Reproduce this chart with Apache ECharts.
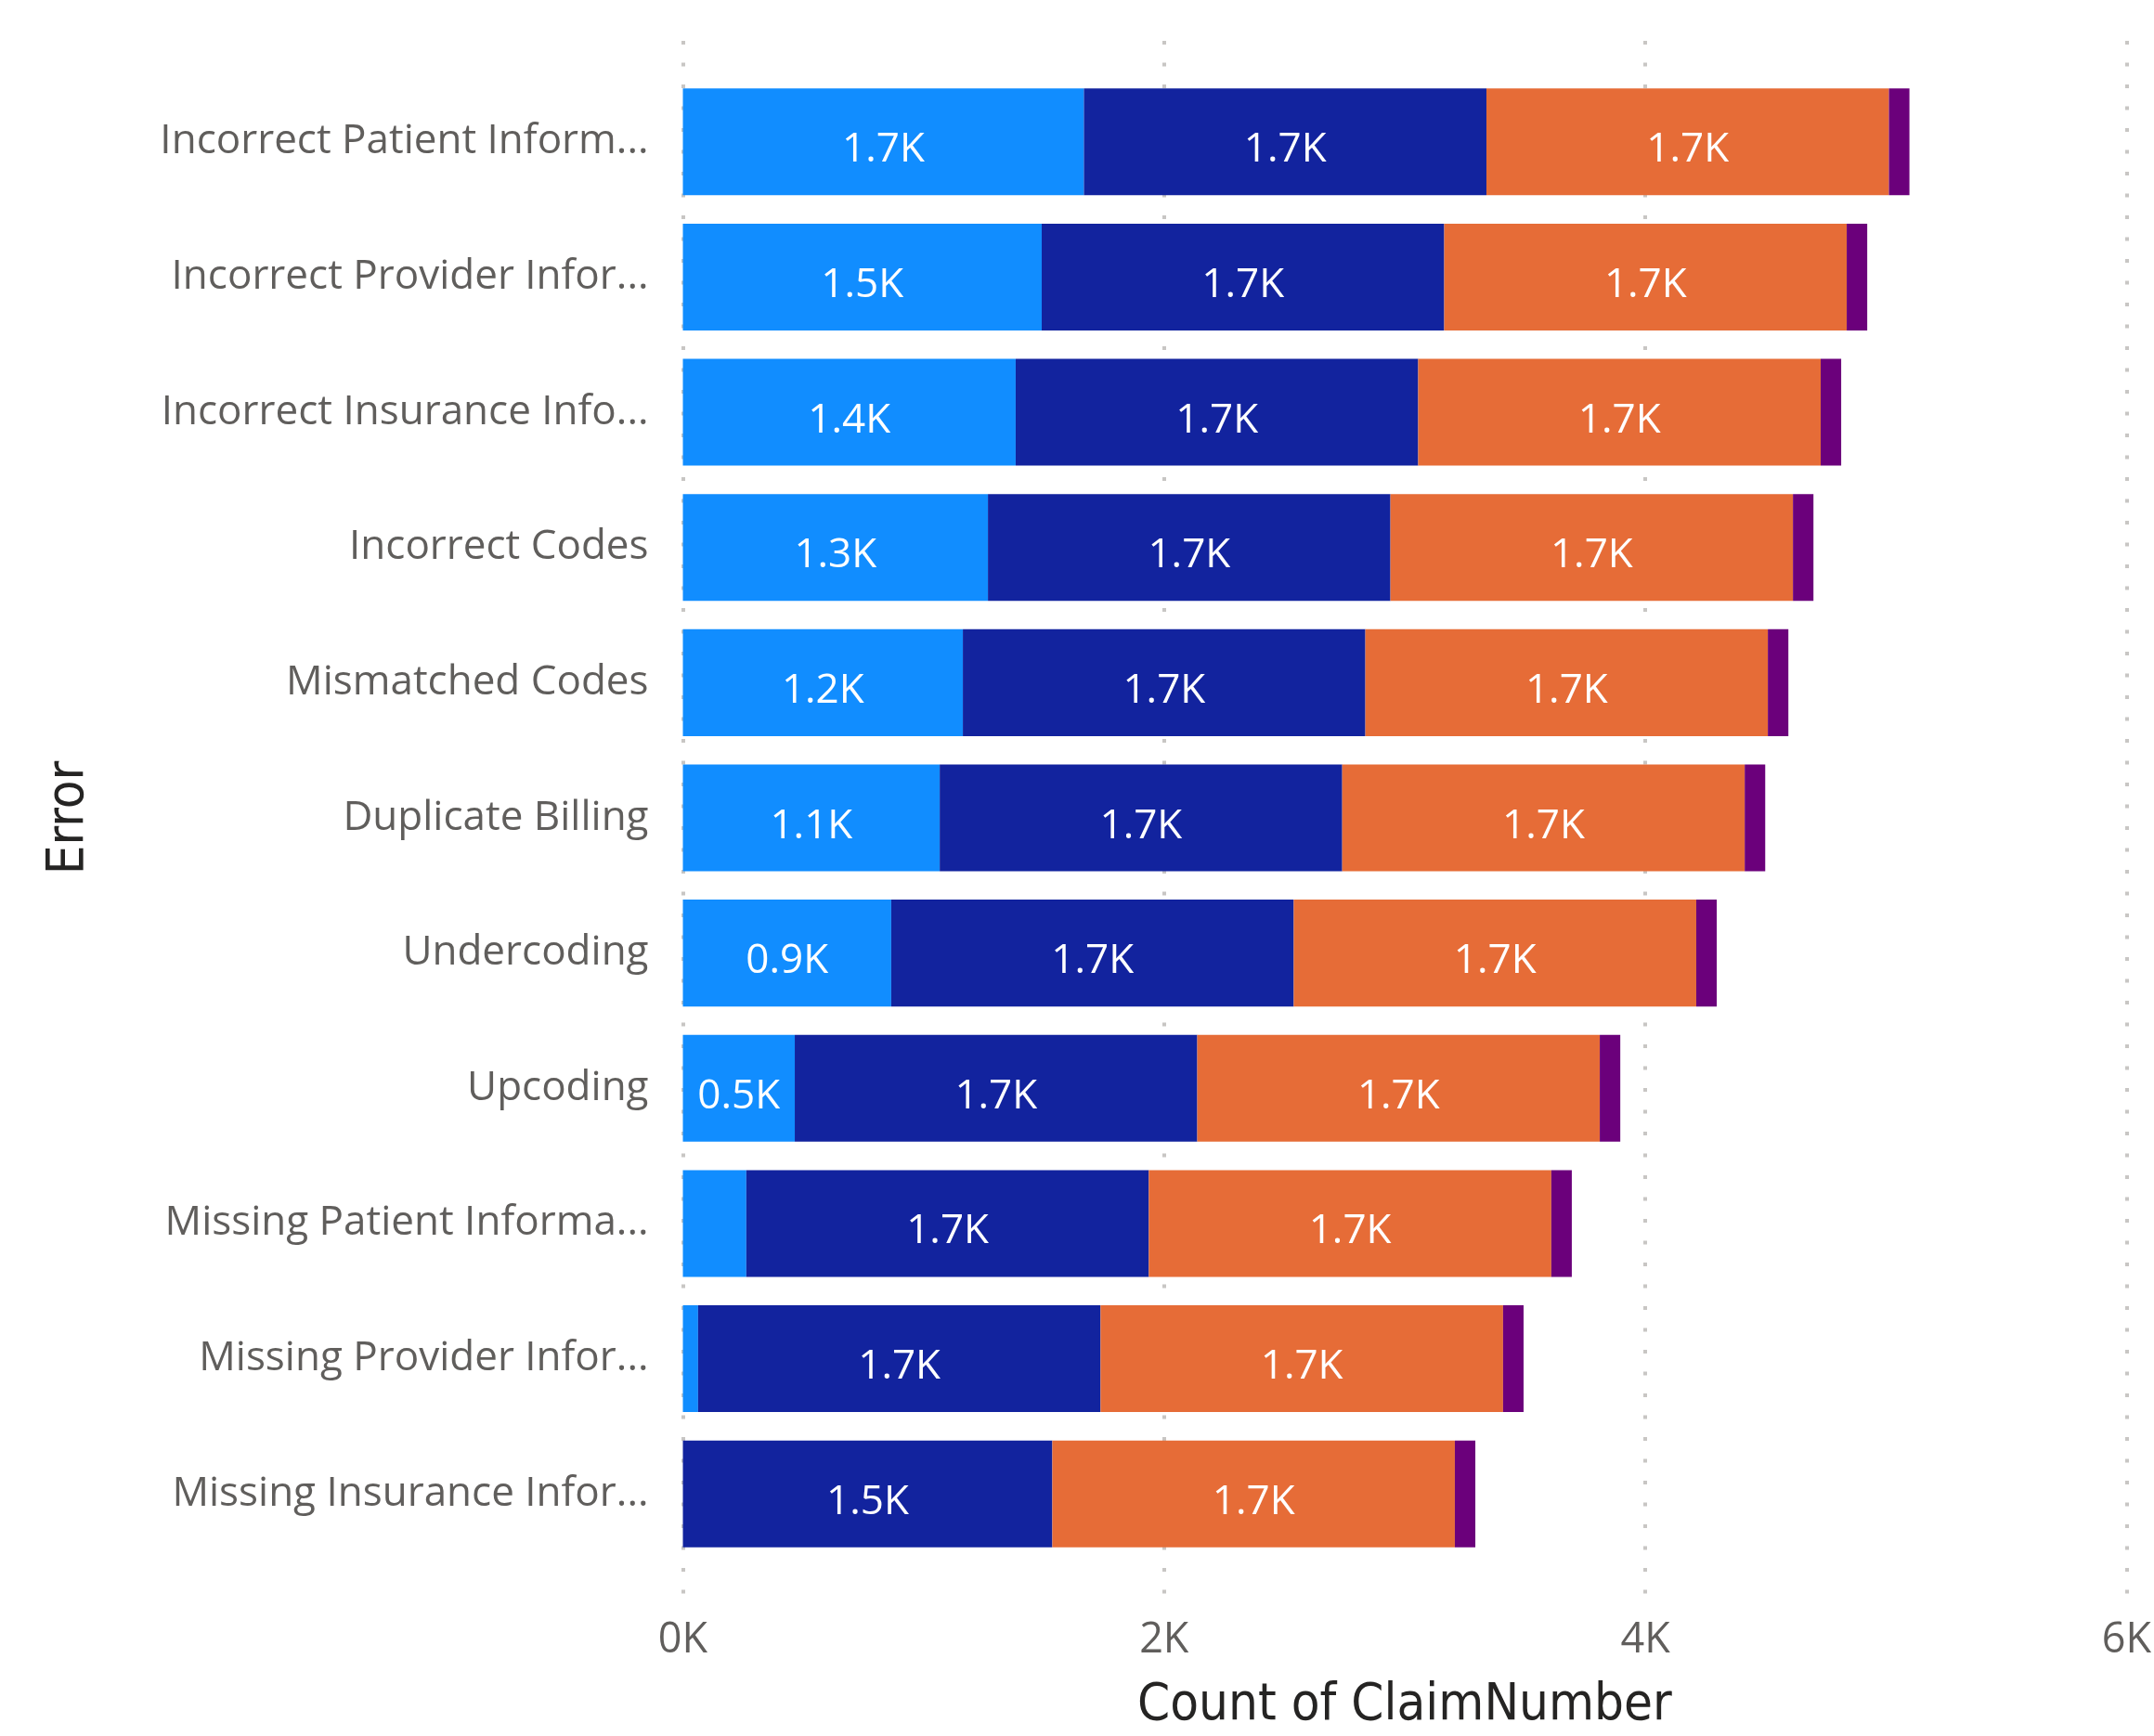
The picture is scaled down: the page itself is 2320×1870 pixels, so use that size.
<!DOCTYPE html>
<html>
<head>
<meta charset="utf-8">
<script src="https://cdn.jsdelivr.net/npm/echarts@6/dist/echarts.min.js"></script>
<style>
html,body{margin:0;padding:0;background:#fff;}
#main{width:2320px;height:1870px;}
</style>
</head>
<body>
<div id="main"></div>
<script>
const categories = [
  "Incorrect Patient Inform...",
  "Incorrect Provider Infor...",
  "Incorrect Insurance Info...",
  "Incorrect Codes",
  "Mismatched Codes",
  "Duplicate Billing",
  "Undercoding",
  "Upcoding",
  "Missing Patient Informa...",
  "Missing Provider Infor...",
  "Missing Insurance Infor..."
];
const series1 = [1663, 1488, 1380, 1265, 1161, 1065, 864, 464, 263, 63, 0];
const series2 = [1669, 1669, 1669, 1669, 1669, 1669, 1669, 1669, 1669, 1669, 1532];
const series3 = [1669, 1669, 1669, 1669, 1669, 1669, 1669, 1669, 1669, 1669, 1669];
const series4 = [85, 85, 85, 85, 85, 85, 85, 85, 85, 85, 85];
const xTicks = [0, 2000, 4000, 6000];
const colors = ["#118DFF", "#12239E", "#E66C37", "#6B007B"];

const labelFont = "'Open Sans', 'Noto Sans', sans-serif";
const titleFont = "'DejaVu Sans Condensed', 'DejaVu Sans', sans-serif";

function mk(name, data, color) {
  return {
    name: name, type: 'bar', stack: 'total', data: data,
    xAxisIndex: 0, yAxisIndex: 0,
    barCategoryGap: '21%',
    itemStyle: { color: color },
    label: {
      show: true, position: 'inside', color: '#FFFFFF',
      fontFamily: labelFont, fontSize: 44, offset: [0, 9],
      formatter: function (p) { return p.value >= 300 ? (p.value / 1000).toFixed(1) + 'K' : ''; }
    },
    emphasis: { disabled: true },
    animation: false
  };
}

const chart = echarts.init(document.getElementById('main'), null, { renderer: 'canvas' });
chart.setOption({
  animation: false,
  backgroundColor: '#ffffff',
  grid: [
    { left: 735.5, right: 26, top: 80, bottom: 188, containLabel: false },
    { left: 735.5, right: 26, top: 44, bottom: 143, containLabel: false }
  ],
  xAxis: [
    { type: 'value', gridIndex: 0, min: 0, max: 6000, interval: 2000,
      axisLine: { show: false }, axisTick: { show: false }, axisLabel: { show: false }, splitLine: { show: false } },
    { type: 'value', gridIndex: 1, min: xTicks[0], max: xTicks[xTicks.length - 1], interval: 2000,
      axisLine: { show: false }, axisTick: { show: false },
      axisLabel: { show: true, color: '#605E5C', fontFamily: labelFont, fontSize: 45, margin: 22,
        formatter: function (v) { return (v / 1000) + 'K'; } },
      splitLine: { show: true, lineStyle: { color: '#C8C6C4', width: 4, type: [4, 19.5] } },
      name: 'Count of ClaimNumber', nameLocation: 'middle', nameGap: 86, nameMoveOverlap: false,
      nameTextStyle: { color: '#252423', fontFamily: titleFont, fontSize: 56 } }
  ],
  yAxis: [
    { type: 'category', gridIndex: 0, data: categories, inverse: true,
      axisLine: { show: false }, axisTick: { show: false },
      axisLabel: { color: '#605E5C', fontFamily: labelFont, fontSize: 44, margin: 37, align: 'right',
        padding: [16, 0, 0, 0] },
      name: 'Error', nameLocation: 'middle', nameRotate: 90, nameGap: 633,
      nameTextStyle: { color: '#252423', fontFamily: titleFont, fontSize: 56 } },
    { type: 'category', gridIndex: 1, data: categories, show: false }
  ],
  series: [
    mk('S1', series1, colors[0]),
    mk('S2', series2, colors[1]),
    mk('S3', series3, colors[2]),
    mk('S4', series4, colors[3]),
    { type: 'bar', xAxisIndex: 1, yAxisIndex: 1, data: [], silent: true }
  ]
});
</script>
</body>
</html>
